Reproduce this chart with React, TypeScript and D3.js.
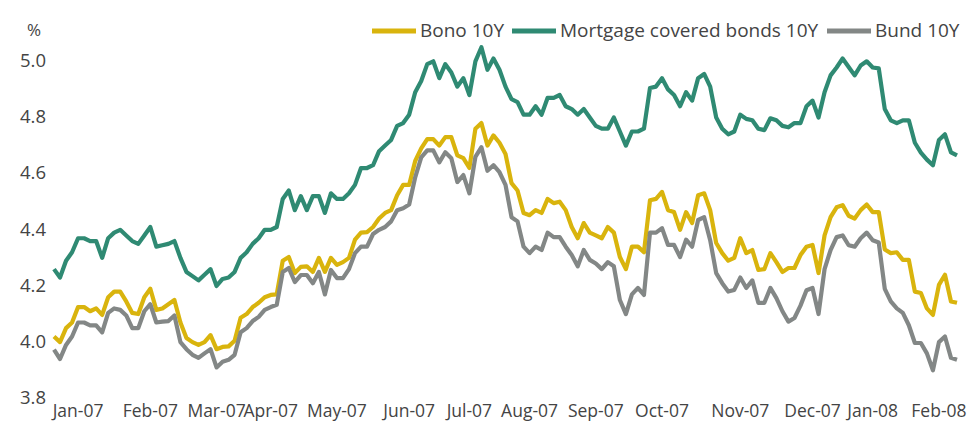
import React from "react";
import * as d3 from "d3";

const seriesNames = ["Bono 10Y", "Mortgage covered bonds 10Y", "Bund 10Y"];

const mortgage = [
  4.25, 4.22, 4.28, 4.31, 4.36, 4.36, 4.35, 4.35, 4.29, 4.36,
  4.38, 4.39, 4.37, 4.35, 4.34, 4.37, 4.40, 4.33, 4.335, 4.34,
  4.35, 4.29, 4.24, 4.225, 4.21, 4.23, 4.25, 4.19, 4.215, 4.22,
  4.24, 4.29, 4.31, 4.34, 4.36, 4.39, 4.39, 4.40, 4.50, 4.53,
  4.46, 4.51, 4.46, 4.51, 4.51, 4.45, 4.52, 4.50, 4.50, 4.52,
  4.55, 4.61, 4.61, 4.62, 4.67, 4.69, 4.71, 4.76, 4.77, 4.80,
  4.88, 4.92, 4.98, 4.99, 4.93, 4.98, 4.95, 4.90, 4.93, 4.87,
  4.99, 5.04, 4.96, 5.0, 4.96, 4.90, 4.855, 4.845, 4.80, 4.80,
  4.83, 4.80, 4.86, 4.86, 4.87, 4.83, 4.82, 4.80, 4.82, 4.79,
  4.76, 4.75, 4.75, 4.79, 4.74, 4.69, 4.74, 4.74, 4.75, 4.895,
  4.90, 4.93, 4.89, 4.87, 4.83, 4.88, 4.85, 4.93, 4.945, 4.90,
  4.79, 4.75, 4.73, 4.74, 4.80, 4.785, 4.78, 4.75, 4.745, 4.787,
  4.78, 4.76, 4.755, 4.77, 4.77, 4.83, 4.85, 4.79, 4.88, 4.94,
  4.968, 5.0, 4.97, 4.94, 4.975, 4.99, 4.968, 4.965, 4.82, 4.78,
  4.77, 4.78, 4.78, 4.70, 4.665, 4.64, 4.62, 4.71, 4.73, 4.666,
  4.655,
];

const bono = [
  4.01, 3.99, 4.04, 4.06, 4.115, 4.115, 4.10, 4.11, 4.087, 4.15,
  4.17, 4.17, 4.135, 4.094, 4.09, 4.15, 4.18, 4.105, 4.11, 4.125,
  4.14, 4.06, 4.005, 3.99, 3.98, 3.99, 4.015, 3.965, 3.973, 3.975,
  3.995, 4.077, 4.09, 4.115, 4.13, 4.15, 4.158, 4.16, 4.28, 4.293,
  4.236, 4.258, 4.26, 4.24, 4.29, 4.24, 4.29, 4.265, 4.275, 4.29,
  4.355, 4.38, 4.382, 4.40, 4.43, 4.45, 4.46, 4.513, 4.55, 4.55,
  4.635, 4.68, 4.713, 4.713, 4.69, 4.72, 4.72, 4.655, 4.645, 4.61,
  4.75, 4.77, 4.69, 4.726, 4.70, 4.66, 4.556, 4.53, 4.45, 4.442,
  4.46, 4.45, 4.50, 4.485, 4.49, 4.46, 4.40, 4.36, 4.414, 4.38,
  4.37, 4.36, 4.40, 4.38, 4.293, 4.25, 4.33, 4.33, 4.31, 4.495,
  4.50, 4.525, 4.46, 4.453, 4.39, 4.453, 4.414, 4.513, 4.52, 4.46,
  4.343, 4.307, 4.28, 4.29, 4.36, 4.307, 4.318, 4.247, 4.25, 4.307,
  4.275, 4.24, 4.254, 4.254, 4.30, 4.33, 4.336, 4.236, 4.37, 4.435,
  4.47, 4.478, 4.44, 4.43, 4.46, 4.48, 4.453, 4.453, 4.32, 4.307,
  4.31, 4.283, 4.283, 4.17, 4.165, 4.11, 4.087, 4.194, 4.23, 4.135,
  4.13,
];

const bund = [
  3.963, 3.93, 3.98, 4.01, 4.06, 4.06, 4.05, 4.05, 4.025, 4.094,
  4.11, 4.105, 4.085, 4.04, 4.04, 4.10, 4.125, 4.06, 4.063, 4.065,
  4.085, 3.99, 3.965, 3.945, 3.934, 3.95, 3.965, 3.90, 3.92, 3.927,
  3.945, 4.025, 4.04, 4.065, 4.08, 4.105, 4.115, 4.123, 4.24, 4.254,
  4.204, 4.229, 4.229, 4.20, 4.24, 4.16, 4.247, 4.218, 4.218, 4.25,
  4.307, 4.33, 4.33, 4.375, 4.39, 4.40, 4.42, 4.46, 4.467, 4.48,
  4.577, 4.648, 4.673, 4.673, 4.63, 4.666, 4.645, 4.56, 4.585, 4.52,
  4.65, 4.684, 4.60, 4.62, 4.595, 4.55, 4.435, 4.42, 4.33, 4.307,
  4.33, 4.318, 4.38, 4.364, 4.364, 4.33, 4.30, 4.26, 4.318, 4.283,
  4.27, 4.25, 4.275, 4.26, 4.14, 4.09, 4.16, 4.183, 4.158, 4.38,
  4.38, 4.396, 4.336, 4.336, 4.293, 4.355, 4.33, 4.425, 4.435, 4.353,
  4.236, 4.20, 4.17, 4.176, 4.22, 4.183, 4.21, 4.13, 4.13, 4.183,
  4.147, 4.10, 4.063, 4.076, 4.12, 4.175, 4.183, 4.09, 4.25, 4.318,
  4.364, 4.37, 4.335, 4.33, 4.36, 4.38, 4.353, 4.345, 4.18, 4.135,
  4.11, 4.094, 4.05, 3.987, 3.987, 3.95, 3.89, 3.99, 4.01, 3.934,
  3.927,
];

const monthLabels = [
  "Jan-07", "Feb-07", "Mar-07", "Apr-07", "May-07", "Jun-07", "Jul-07",
  "Aug-07", "Sep-07", "Oct-07", "Nov-07", "Dec-07", "Jan-08", "Feb-08",
];
const monthIndex = [4, 16, 27, 36, 47, 59, 69, 79, 90, 101, 114, 126, 136, 147];

const yTicks = [3.8, 4.0, 4.2, 4.4, 4.6, 4.8, 5.0];

const colors = ["#d9b40d", "#2f8a73", "#838786"];
const allSeries = [bono, mortgage, bund];

const W = 976;
const H = 424;
const FONT = "'Open Sans', 'Segoe UI', sans-serif";
const TEXT = "#444444";

export default function App() {
  const x = d3.scaleLinear().domain([0, mortgage.length - 1]).range([54, 957]);
  const y = d3.scaleLinear().domain([3.8, 5.0]).range([395.5, 58.5]);
  const line = d3
    .line<number>()
    .x((_, i) => x(i))
    .y((d) => y(d))
    .curve(d3.curveLinear);

  const legendX = [372, 512, 827];
  return (
    <svg
      width={W}
      height={H}
      viewBox={`0 0 ${W} ${H}`}
      style={{ position: "absolute", left: 0, top: 0, background: "#fff", display: "block" }}
      fontFamily={FONT}
    >
      <rect x={0} y={0} width={W} height={H} fill="#ffffff" />
      <text x={34} y={29} fill={TEXT} fontSize={17} textAnchor="middle" dominantBaseline="central">
        %
      </text>
      {yTicks.map((t) => (
        <text
          key={t}
          x={46}
          y={y(t) + 1}
          fill={TEXT}
          fontSize={18.5}
          textAnchor="end"
          dominantBaseline="central"
        >
          {t.toFixed(1)}
        </text>
      ))}
      {monthLabels.map((m, i) => (
        <text
          key={m}
          x={x(monthIndex[i])}
          y={410}
          fill={TEXT}
          fontSize={17.5}
          textAnchor="middle"
          dominantBaseline="central"
        >
          {m}
        </text>
      ))}
      {allSeries.map((s, i) => (
        <path
          key={i}
          d={line(s) || ""}
          fill="none"
          stroke={colors[i]}
          strokeWidth={4.2}
          strokeLinejoin="round"
          strokeLinecap="butt"
        />
      ))}
      {seriesNames.map((n, i) => (
        <g key={n} transform={`translate(${legendX[i]},31)`}>
          <line x1={0} x2={44} y1={0} y2={0} stroke={colors[i]} strokeWidth={5} />
          <text x={48} y={-1} fill={TEXT} fontSize={19} dominantBaseline="central">
            {n}
          </text>
        </g>
      ))}
    </svg>
  );
}
